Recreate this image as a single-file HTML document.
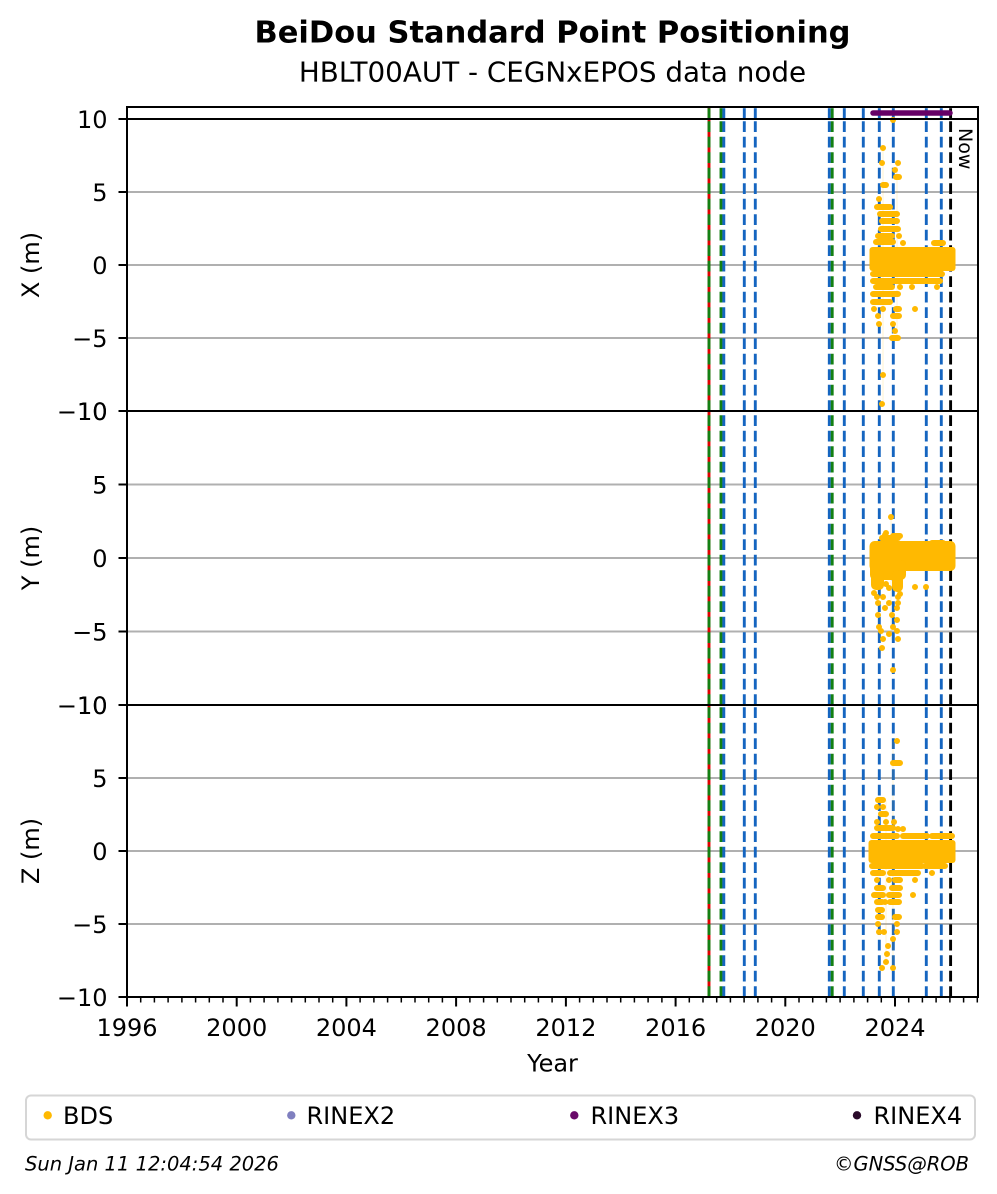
<!DOCTYPE html>
<html>
<head>
<meta charset="utf-8">
<style>
  html, body { margin: 0; padding: 0; background: #ffffff; }
  svg { display: block; }
  text { font-family: "DejaVu Sans", "Liberation Sans", sans-serif; fill: #000; }
</style>
</head>
<body>
<svg width="997" height="1194" viewBox="0 0 997 1194" xmlns="http://www.w3.org/2000/svg">
  <rect x="0" y="0" width="997" height="1194" fill="#ffffff"/>

  <!-- Titles -->
  <text x="552.5" y="42.7" font-size="30.5" font-weight="bold" text-anchor="middle">BeiDou Standard Point Positioning</text>
  <text x="552.5" y="81.7" font-size="27.8" text-anchor="middle">HBLT00AUT - CEGNxEPOS data node</text>

  <!-- Grid lines -->
  <g stroke="#b0b0b0" stroke-width="2">
    <line x1="127" y1="192" x2="978" y2="192"/>
    <line x1="127" y1="265" x2="978" y2="265"/>
    <line x1="127" y1="338" x2="978" y2="338"/>
    <line x1="127" y1="484.5" x2="978" y2="484.5"/>
    <line x1="127" y1="558" x2="978" y2="558"/>
    <line x1="127" y1="631.5" x2="978" y2="631.5"/>
    <line x1="127" y1="778" x2="978" y2="778"/>
    <line x1="127" y1="851" x2="978" y2="851"/>
    <line x1="127" y1="924" x2="978" y2="924"/>
  </g>

  <defs>
    <g id="vd">
      <line x1="0" y1="119" x2="0" y2="107"/>
      <line x1="0" y1="411" x2="0" y2="119"/>
      <line x1="0" y1="705" x2="0" y2="411"/>
      <line x1="0" y1="997" x2="0" y2="705"/>
    </g>
  </defs>

  <!-- Vertical event lines -->
  <line x1="709" y1="107" x2="709" y2="997" stroke="#e00000" stroke-width="2.9"/>
  <g stroke-width="2.9" stroke-dasharray="10.8 4.7" fill="none">
    <use href="#vd" x="709" stroke="#138013"/>
    <use href="#vd" x="721" stroke="#138013"/>
    <use href="#vd" x="723.8" stroke="#1565c0"/>
    <use href="#vd" x="744.3" stroke="#1565c0"/>
    <use href="#vd" x="755.3" stroke="#1565c0"/>
    <use href="#vd" x="829.3" stroke="#1565c0"/>
    <use href="#vd" x="832.2" stroke="#138013"/>
    <use href="#vd" x="844.3" stroke="#1565c0"/>
    <use href="#vd" x="863.3" stroke="#1565c0"/>
    <use href="#vd" x="879.3" stroke="#1565c0"/>
    <use href="#vd" x="893.3" stroke="#1565c0"/>
    <use href="#vd" x="926.3" stroke="#1565c0"/>
    <use href="#vd" x="941.3" stroke="#1565c0"/>
    <use href="#vd" x="950.6" stroke="#000000"/>
  </g>

  <!-- RINEX3 bar in top strip -->
  <line x1="873" y1="113" x2="950" y2="113" stroke="#660066" stroke-width="5.5" stroke-linecap="round"/>

  <!-- faint connecting lines -->
  <g stroke="#ffb900" stroke-opacity="0.15" stroke-width="1.2">
    <line x1="883" y1="148" x2="883" y2="404"/>
    <line x1="897" y1="163" x2="897" y2="338"/>
    <line x1="891" y1="517" x2="891" y2="640"/>
    <line x1="893" y1="741" x2="893" y2="968"/>
    <line x1="886" y1="800" x2="886" y2="962"/>
  </g>

  <!-- BDS data blobs -->
  <g fill="#ffb901">
    <rect x="869.5" y="247" width="86" height="24" rx="3"/>
    <!-- Y panel -->
    <rect x="869.5" y="541" width="86" height="30" rx="5"/>
    <rect x="870" y="560" width="36" height="20" rx="5"/>
    <rect x="871" y="570" width="13" height="20" rx="5"/>
    <rect x="892" y="570" width="11" height="22" rx="5"/>
    <!-- Z panel -->
    <rect x="868.5" y="840" width="87" height="23" rx="3"/>
  </g>
  <path fill="none" stroke="#ffb901" stroke-width="6" stroke-linecap="round" d="
    M893 120h.01
    M883 148h.01
    M882 163h.01 M898 163h.01
    M895 170h.01
    M896 177H899
    M883 185H886
    M879 199h.01
    M877 207H890
    M880 214H897
    M882 221H897
    M881 229H898
    M878 236H892 M899 236h.01
    M876 242H893 M903 243h.01 M934 243H943
    M873 274H942
    M873 281H940
    M876 287H892 M900 287h.01 M912 287h.01 M937 287h.01
    M873 294H898
    M873 302H890
    M874 309h.01 M883 309h.01 M896 309H899 M915 309h.01
    M878 316h.01 M893 316H899
    M879 324h.01 M893 324h.01
    M895 331h.01
    M892 338H898
    M883 375h.01
    M882 404h.01

    M891 517h.01
    M886 533h.01
    M882 538H898
    M885 535h.01 M893 536H900 M883 539h.01
    M913 544H923 M932 543H943 M950 544h.01
    M886 584h.01 M889 588h.01 M874 593h.01 M900 594h.01
    M915 587h.01 M926 587h.01
    M877 597h.01 M883 597h.01 M898 597h.01
    M878 603h.01 M889 603h.01 M898 603h.01
    M885 608h.01 M897 608h.01
    M878 615h.01 M892 615h.01
    M897 620h.01
    M879 627h.01 M893 627h.01
    M881 631h.01 M897 631h.01
    M889 634h.01
    M883 639h.01 M898 639h.01
    M882 648h.01
    M893 670h.01

    M897 741h.01
    M893 763H900
    M878 800H883
    M877 807h.01 M883 807h.01
    M881 814H886
    M877 822h.01 M886 822h.01 M894 822h.01
    M877 828H893 M898 829h.01 M903 829h.01
    M873 836H897 M903 836H927 M932 836H952
    M872 866H922 M925 866H945
    M873 873H883 M890 873H918 M932 873h.01
    M877 880h.01 M889 880h.01 M895 880H900 M915 880h.01
    M877 888H883 M892 888H900
    M874 895H883 M889 895H899 M913 895h.01
    M877 902H882 M885 902h.01 M890 902H899
    M878 910H882
    M878 917H882 M895 917H899
    M878 924h.01 M897 924h.01
    M879 932h.01 M884 932h.01 M897 932h.01
    M893 939h.01
    M888 946h.01
    M887 954h.01
    M886 962h.01
    M882 968h.01 M893 968h.01
  "/>

  <!-- Now label -->
  <text transform="translate(959,128) rotate(90)" font-size="19">Now</text>

  <!-- Spines -->
  <g stroke="#000" stroke-width="2" fill="none">
    <rect x="127" y="107" width="851" height="890"/>
    <line x1="127" y1="119" x2="978" y2="119"/>
    <line x1="127" y1="411" x2="978" y2="411"/>
    <line x1="127" y1="705" x2="978" y2="705"/>
  </g>

  <!-- Y ticks -->
  <path stroke="#000" stroke-width="2" fill="none" d="M118.5 119H127M118.5 192H127M118.5 265H127M118.5 338H127M118.5 411H127M118.5 484.5H127M118.5 558H127M118.5 631.5H127M118.5 705H127M118.5 778H127M118.5 851H127M118.5 924H127M118.5 997H127"/>

  <!-- X major ticks -->
  <path stroke="#000" stroke-width="2" fill="none" d="M127 997v9.5M236.7 997v9.5M346.4 997v9.5M456.1 997v9.5M565.9 997v9.5M675.6 997v9.5M785.3 997v9.5M895 997v9.5"/>
  <!-- X minor ticks -->
  <path stroke="#000" stroke-width="1.5" fill="none" d="M140.7 997v5.5M154.4 997v5.5M168.1 997v5.5M181.9 997v5.5M195.6 997v5.5M209.3 997v5.5M223 997v5.5M250.4 997v5.5M264.1 997v5.5M277.9 997v5.5M291.6 997v5.5M305.3 997v5.5M319 997v5.5M332.7 997v5.5M360.1 997v5.5M373.9 997v5.5M387.6 997v5.5M401.3 997v5.5M415 997v5.5M428.7 997v5.5M442.4 997v5.5M469.9 997v5.5M483.6 997v5.5M497.3 997v5.5M511 997v5.5M524.7 997v5.5M538.4 997v5.5M552.1 997v5.5M579.6 997v5.5M593.3 997v5.5M607 997v5.5M620.7 997v5.5M634.4 997v5.5M648.1 997v5.5M661.9 997v5.5M689.3 997v5.5M703 997v5.5M716.7 997v5.5M730.4 997v5.5M744.1 997v5.5M757.9 997v5.5M771.6 997v5.5M799 997v5.5M812.7 997v5.5M826.4 997v5.5M840.1 997v5.5M853.9 997v5.5M867.6 997v5.5M881.3 997v5.5M908.7 997v5.5M922.4 997v5.5M936.1 997v5.5M949.9 997v5.5M963.6 997v5.5M977.3 997v5.5"/>

  <!-- Y tick labels -->
  <g font-size="24" text-anchor="end">
    <text x="107.5" y="127.8">10</text>
    <text x="107.5" y="200.8">5</text>
    <text x="107.5" y="273.8">0</text>
    <text x="107.5" y="346.8">−5</text>
    <text x="107.5" y="419.8">−10</text>
    <text x="107.5" y="419.8">10</text>
    <text x="107.5" y="493.3">5</text>
    <text x="107.5" y="566.8">0</text>
    <text x="107.5" y="640.3">−5</text>
    <text x="107.5" y="713.8">−10</text>
    <text x="107.5" y="713.8">10</text>
    <text x="107.5" y="786.8">5</text>
    <text x="107.5" y="859.8">0</text>
    <text x="107.5" y="932.8">−5</text>
    <text x="107.5" y="1005.8">−10</text>
  </g>

  <!-- X tick labels -->
  <g font-size="24" text-anchor="middle">
    <text x="127" y="1036">1996</text>
    <text x="236.7" y="1036">2000</text>
    <text x="346.4" y="1036">2004</text>
    <text x="456.1" y="1036">2008</text>
    <text x="565.9" y="1036">2012</text>
    <text x="675.6" y="1036">2016</text>
    <text x="785.3" y="1036">2020</text>
    <text x="895" y="1036">2024</text>
  </g>

  <!-- Axis labels -->
  <text x="552.5" y="1071.5" font-size="24" text-anchor="middle">Year</text>
  <text transform="translate(39,265) rotate(-90)" font-size="24" text-anchor="middle">X (m)</text>
  <text transform="translate(39,558) rotate(-90)" font-size="24" text-anchor="middle">Y (m)</text>
  <text transform="translate(39,851) rotate(-90)" font-size="24" text-anchor="middle">Z (m)</text>

  <!-- Legend -->
  <rect x="26" y="1095.5" width="949" height="44" rx="5" ry="5" fill="#ffffff" stroke="#d6d6d6" stroke-width="2"/>
  <circle cx="47.7" cy="1115.3" r="4.2" fill="#ffb901"/>
  <text x="63" y="1124" font-size="24">BDS</text>
  <circle cx="291.3" cy="1115.3" r="4.2" fill="#7f7fbf"/>
  <text x="306.5" y="1124" font-size="24">RINEX2</text>
  <circle cx="574.3" cy="1115.3" r="4.2" fill="#6a0a6a"/>
  <text x="590.5" y="1124" font-size="24">RINEX3</text>
  <circle cx="857" cy="1115.3" r="4.2" fill="#2a0a2a"/>
  <text x="873.5" y="1124" font-size="24">RINEX4</text>

  <!-- Footer -->
  <text x="25" y="1170.5" font-size="19.5" font-style="italic">Sun Jan 11 12:04:54 2026</text>
  <text x="969" y="1170.5" font-size="19.5" font-style="italic" text-anchor="end">©GNSS@ROB</text>
</svg>
</body>
</html>
